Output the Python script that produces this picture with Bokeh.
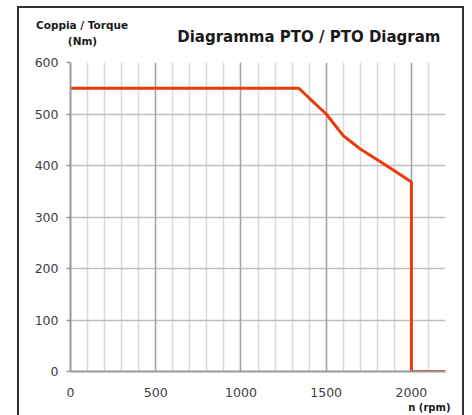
from bokeh.plotting import figure
from bokeh.layouts import column
from bokeh.models import Range1d, SingleIntervalTicker, Grid, FixedTicker, Title, Label, Plot
from bokeh.embed import file_html
from bokeh.resources import INLINE

# Data
rpm = [0, 1340, 1400, 1500, 1600, 1700, 1800, 1900, 2000, 2000, 2200]
torque = [550, 550, 531, 500, 458, 432, 411, 390, 368, 0, 0]
x_ticks = [0, 500, 1000, 1500, 2000]
y_ticks = [0, 100, 200, 300, 400, 500, 600]

title_text = "Diagramma PTO / PTO Diagram"
y_title_1 = "Coppia / Torque"
y_title_2 = "(Nm)"
x_title = "n (rpm)"

FONT = "DejaVu Sans"
TXT = "#1a1a1a"
W = 443
HEAD_H = 46

# ---- header strip holding the chart title and the y-axis title ----
head = figure(width=W, height=HEAD_H, x_range=Range1d(0, W), y_range=Range1d(0, HEAD_H),
              output_backend="svg", toolbar_location=None,
              x_axis_type=None, y_axis_type=None,
              min_border_left=0, min_border_right=0, min_border_top=0, min_border_bottom=0)
head.outline_line_color = None
head.background_fill_color = "white"
head.border_fill_color = "white"

def lab(x, y, text, size, align):
    return Label(x=x, y=y, text=text, text_font=FONT, text_font_style="bold",
                 text_font_size=size, text_align=align, text_baseline="middle",
                 text_color=TXT)

head.add_layout(lab(62.5, 30, y_title_1, "10.5px", "center"))
head.add_layout(lab(63, 14, y_title_2, "10.5px", "center"))
head.add_layout(lab(421, 18, title_text, "15px", "right"))

# ---- main chart ----
p = figure(width=W, height=361, x_range=Range1d(0, 2200), y_range=Range1d(0, 600),
           output_backend="svg", toolbar_location=None,
           min_border_left=51, min_border_right=17, min_border_top=8, min_border_bottom=44)
p.outline_line_color = None
p.background_fill_color = "white"
p.border_fill_color = "white"

# keep the header's frame independent of the chart's frame
if "frame_align" in Plot.properties():
    head.frame_align = False
    p.frame_align = False

# grids
p.xgrid.ticker = SingleIntervalTicker(interval=100)
p.xgrid.grid_line_color = "#d9d9d9"
p.xgrid.grid_line_width = 1.5
p.ygrid.ticker = SingleIntervalTicker(interval=100)
p.ygrid.grid_line_color = "#bfbfbf"
p.ygrid.grid_line_width = 1.5
major = Grid(dimension=0, ticker=SingleIntervalTicker(interval=500),
             grid_line_color="#a6a6a6", grid_line_width=1.5)
p.add_layout(major)

# axes
p.xaxis.ticker = FixedTicker(ticks=x_ticks)
p.yaxis.ticker = FixedTicker(ticks=y_ticks)
for ax in (p.xaxis, p.yaxis):
    ax.axis_line_color = "#999999"
    ax.axis_line_width = 2
    ax.minor_tick_line_color = None
    ax.major_label_text_font = FONT
    ax.major_label_text_font_size = "12.5px"
    ax.major_label_text_color = "#404040"
p.xaxis.major_tick_line_color = None
p.xaxis.major_label_standoff = 10
p.yaxis.major_tick_line_color = "#999999"
p.yaxis.major_tick_line_width = 1.5
p.yaxis.major_tick_out = 4
p.yaxis.major_tick_in = 0
p.yaxis.major_label_standoff = 8

p.line(rpm, torque, line_color="#ea3a0e", line_width=3)

# x title below the axis
p.add_layout(Title(text=x_title, align="right", offset=-5, standoff=0,
                   text_font=FONT, text_font_style="bold", text_font_size="10px",
                   text_color=TXT), "below")

layout = column(head, p, spacing=0)
layout.styles = {"border-top": "2px solid #333333", "border-left": "2px solid #333333",
                 "border-right": "2px solid #333333", "margin-left": "17px",
                 "margin-top": "6px"}

open("out.html", "w").write(file_html(layout, INLINE))
